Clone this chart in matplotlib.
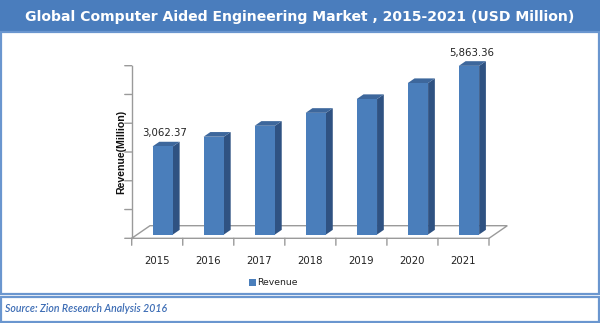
import matplotlib
matplotlib.use("Agg")
import matplotlib.pyplot as plt
from matplotlib.patches import Rectangle, Polygon

# ---- data ----
years = ["2015", "2016", "2017", "2018", "2019", "2020", "2021"]
revenue = [3062.37, 3400, 3780, 4230, 4710, 5265, 5863.36]
labelled = {0: "3,062.37", 6: "5,863.36"}
title = "Global Computer Aided Engineering Market , 2015-2021 (USD Million)"
ylabel = "Revenue(Million)"
legend_label = "Revenue"
source = "Source: Zion Research Analysis 2016"

W, H = 600, 323
fig = plt.figure(figsize=(W / 100, H / 100), dpi=100)

# background/decoration axes in pixel coords
bg = fig.add_axes([0, 0, 1, 1])
bg.set_xlim(0, W)
bg.set_ylim(H, 0)
bg.axis("off")

blue = "#4a7dbd"
border = "#6a96cf"
bg.add_patch(Rectangle((0, 0), W, 33, color=blue, lw=0))
bg.text(W / 2, 16.5, title, color="white", fontsize=10.1, fontweight="bold",
        ha="center", va="center", family="DejaVu Sans")
# white panel border
bg.add_patch(Rectangle((1, 32), W - 2.5, 262, fill=False, ec=border, lw=1.6))
# source box
bg.add_patch(Rectangle((1, 296.5), W - 2.5, 25, fill=False, ec=border, lw=1.6))
bg.text(5, 308.5, source, color="#3d6db5", fontsize=7.6, style="italic",
        ha="left", va="center", family="Lato", fontweight="semibold")

# legend
front = "#4a7ebb"
side = "#2f5282"
topc = "#3d679c"
bg.add_patch(Rectangle((249, 279), 6.5, 6.5, color=front, lw=0))
bg.text(257, 282.5, legend_label, fontsize=6.7, ha="left", va="center",
        color="#222222", family="DejaVu Sans")

# ---- data axes ----
x0, x1 = 131.7, 489.0
yb, yt = 238.3, 65.7
ymax = 6000
ax = fig.add_axes([x0 / W, 1 - yb / H, (x1 - x0) / W, (yb - yt) / H])
ax.set_xlim(-0.5, len(years) - 0.5)
ax.set_ylim(0, ymax)
ax.axis("off")

n = len(years)
dxf, dyf = 0.3585, 438.0  # floor depth in data units
gray = "#9a9a9a"
# floor outline
floor = [(-0.5, 0), (n - 0.5, 0), (n - 0.5 + dxf, dyf), (-0.5 + dxf, dyf)]
ax.add_patch(Polygon(floor, closed=True, fill=False, ec=gray, lw=1.0,
                     clip_on=False, zorder=1))
# y axis
ax.plot([-0.5, -0.5], [0, ymax], color=gray, lw=1.0, clip_on=False, zorder=1)
for t in range(0, ymax + 1, 1000):
    ax.annotate("", xy=(-0.5, t), xytext=(-5, 0), textcoords="offset points",
                arrowprops=dict(arrowstyle="-", color=gray, lw=1.0,
                                shrinkA=0, shrinkB=0), annotation_clip=False)
# x ticks at category boundaries
for k in range(n + 1):
    xb = k - 0.5
    ax.annotate("", xy=(xb, 0), xytext=(0, -5), textcoords="offset points",
                arrowprops=dict(arrowstyle="-", color=gray, lw=1.0,
                                shrinkA=0, shrinkB=0), annotation_clip=False)
for i, y in enumerate(years):
    ax.annotate(y, xy=(i, 0), xytext=(0, -16), textcoords="offset points",
                ha="center", va="center", fontsize=7.3, color="#222222",
                annotation_clip=False)

# 3D bars
f = 0.3
sx, sy = f * dxf, f * dyf
bw = 0.398
ddx, ddy = 0.37 * dxf, 0.37 * dyf
xs = [i + sx for i in range(n)]
ax.bar(xs, revenue, width=bw, bottom=sy, color=front, lw=0, zorder=3,
       clip_on=False)
for i, v in enumerate(revenue):
    xl, xr = xs[i] - bw / 2, xs[i] + bw / 2
    top = sy + v
    ax.add_patch(Polygon([(xr, sy), (xr + ddx, sy + ddy), (xr + ddx, top + ddy), (xr, top)],
                         closed=True, color=side, lw=0, zorder=2, clip_on=False))
    ax.add_patch(Polygon([(xl, top), (xr, top), (xr + ddx, top + ddy), (xl + ddx, top + ddy)],
                         closed=True, color=topc, lw=0, zorder=2, clip_on=False))
    if i in labelled:
        ax.annotate(labelled[i], xy=(xs[i] + ddx / 3, top + ddy), xytext=(0, 2.5),
                    textcoords="offset points", ha="center", va="bottom",
                    fontsize=7.3, color="#222222", annotation_clip=False)

fig.text(121.5 / W, 1 - 152 / H, ylabel, rotation=90, ha="center", va="center",
         fontsize=7.6, fontweight="bold", family="Liberation Sans", color="#111111")

fig.savefig("out.png", dpi=100)
